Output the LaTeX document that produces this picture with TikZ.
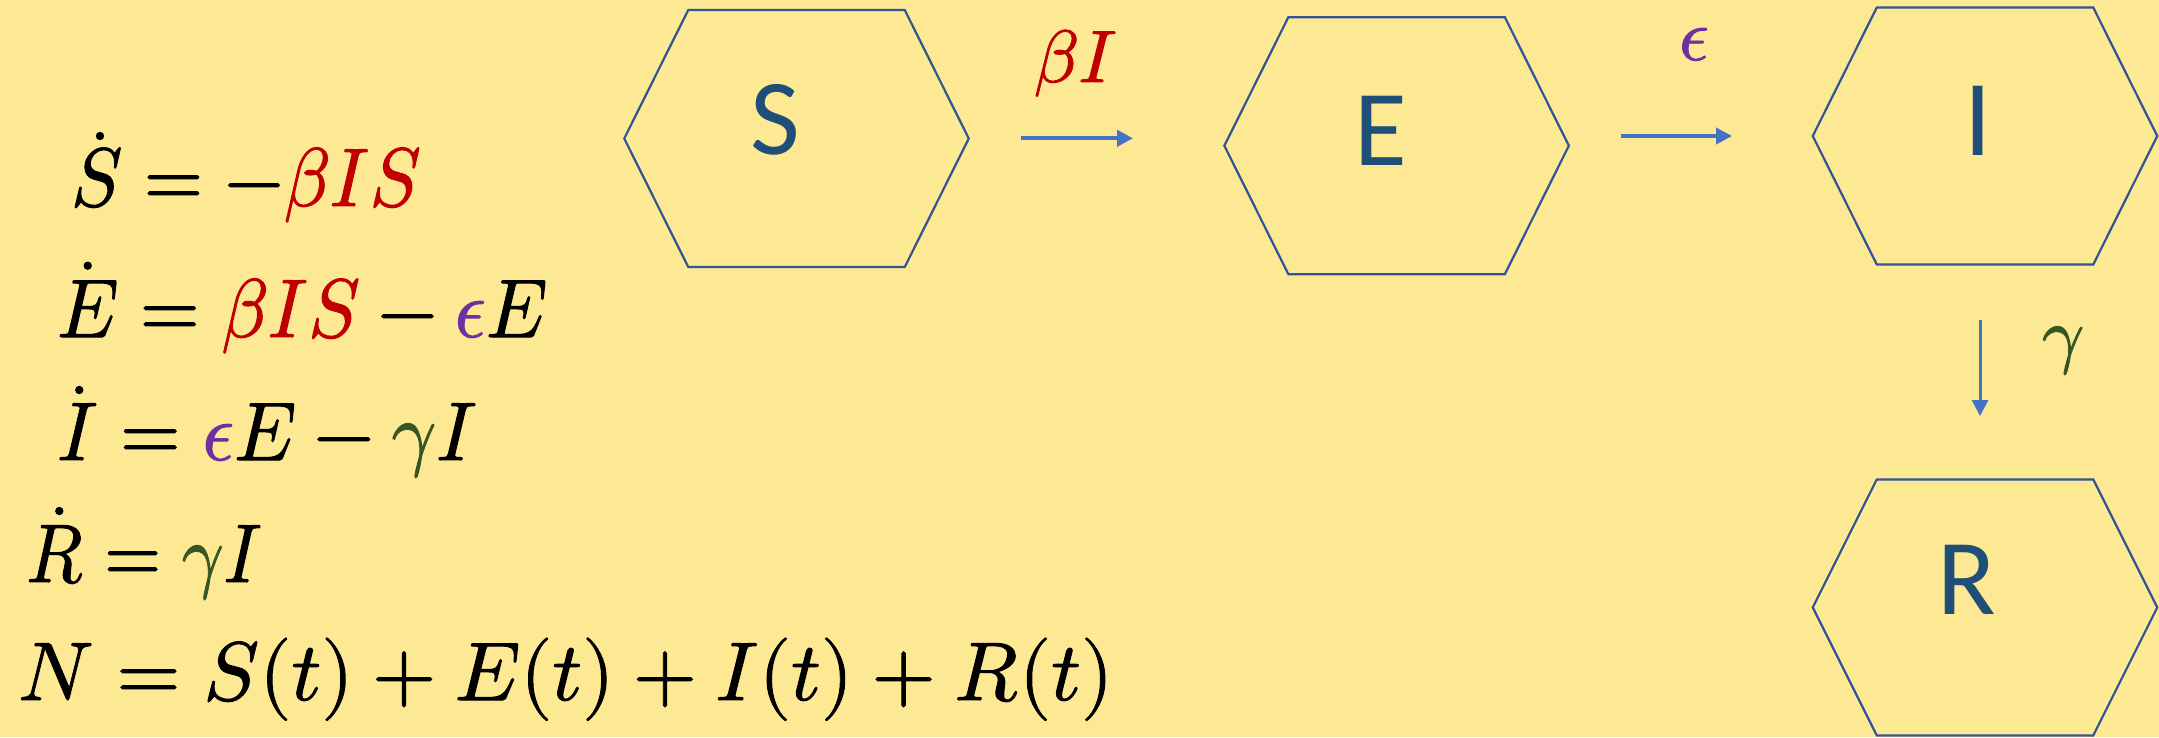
\documentclass[tikz,border=0pt]{standalone}
\usepackage{graphicx}
\usepackage{unicode-math}
\setmathfont{Latin Modern Math}[FakeBold=1.2]
\newfontfamily\calibri{Carlito}
\usetikzlibrary{arrows.meta}
\definecolor{bg}{HTML}{FDE893}
\definecolor{hexline}{HTML}{2F5597}
\definecolor{lettc}{HTML}{1F4E79}
\definecolor{arrc}{HTML}{4472C4}
\definecolor{cred}{HTML}{C00000}
\definecolor{cpurple}{HTML}{7030A0}
\definecolor{cgreen}{HTML}{375623}
\newcommand\drawhex[1]{\draw[hexdraw] (#1.west) -- ([xshift=64pt]#1.north west) -- ([xshift=-64pt]#1.north east) -- (#1.east) -- ([xshift=-64pt]#1.south east) -- ([xshift=64pt]#1.south west) -- cycle;}
\newsavebox\eqbox
\newcommand\eqfit[2]{\sbox\eqbox{#2}\scalebox{\fpeval{#1/\wd\eqbox}}[1]{\usebox\eqbox}}
\begin{document}
\begin{tikzpicture}[x=1pt,y=-1pt,
  hexbox/.style={minimum width=344.5pt, minimum height=257pt, inner sep=0pt, outer sep=0pt},
  hexdraw/.style={draw=hexline, line width=2.2pt, line join=miter},
  letter/.style={text=lettc, font=\calibri\fontsize{108}{120}\selectfont, inner sep=0pt},
  eqn/.style={anchor=base west, inner sep=0pt, font=\fontsize{83}{90}\selectfont},
  rate/.style={anchor=base, inner sep=0pt, font=\fontsize{74}{80}\selectfont},
  flow/.style={draw=arrc, line width=4pt, -{Triangle[length=16pt,width=16pt]}},
  dotacc/.style={fill=black},
]
\useasboundingbox (0,0) rectangle (2159,737);
\fill[bg] (0,0) rectangle (2159,737);

% compartments
\node[hexbox] (S) at (796.5,138.5) {};
\node[hexbox] (E) at (1396.6,145.7) {};
\node[hexbox] (I) at (1985,136) {};
\node[hexbox, minimum height=256pt] (R) at (1985,607.4) {};
\drawhex{S}
\drawhex{E}
\drawhex{I}
\drawhex{R}
\node[letter] (Slab) at (775,120) {S};
\node[letter] (Elab) at (1380.5,131) {E};
\node[letter] (Ilab) at (1978,121) {I};
\node[letter] (Rlab) at (1966.5,580) {R};

% flows
\coordinate (f1a) at (1021,138.3);
\coordinate (f1b) at (1133,138.3);
\coordinate (f2a) at (1621,136);
\coordinate (f2b) at (1732,136);
\coordinate (f3a) at (1980,319.5);
\coordinate (f3b) at (1980,416);
\draw[flow] (f1a) -- (f1b);
\draw[flow] (f2a) -- (f2b);
\draw[flow, line width=3pt] (f3a) -- (f3b);
\node[rate] (r1) at (1075.5,82) {$\color{cred}\beta I$};
\node[rate] (r2) at (1694,60) {$\color{cpurple}\epsilon$};
\node[rate] (r3) at (2063,359) {$\color{cgreen}\gamma$};

% equations
\node[eqn] (eq1) at (71,206) {\eqfit{350pt}{$S = -{\color{cred}\beta I S}$}};
\node[eqn] (eq2) at (57,337) {\eqfit{490pt}{$E = {\color{cred}\beta I S} - {\color{cpurple}\epsilon}E$}};
\node[eqn] (eq3) at (57,460) {\eqfit{420pt}{$I = {\color{cpurple}\epsilon}E - {\color{cgreen}\gamma}I$}};
\node[eqn] (eq4) at (26,582) {\eqfit{236pt}{$R = {\color{cgreen}\gamma}I$}};
\node[eqn] (eq5) at (18,700) {\eqfit{1095pt}{$N = S(t) + E(t) + I(t) + R(t)$}};
% time-derivative dots
\fill[dotacc] (100,136) circle[radius=4.2];
\fill[dotacc] (87.7,265.7) circle[radius=4.2];
\fill[dotacc] (79.3,390) circle[radius=4.2];
\fill[dotacc] (59.3,511) circle[radius=4.2];
\end{tikzpicture}
\end{document}
